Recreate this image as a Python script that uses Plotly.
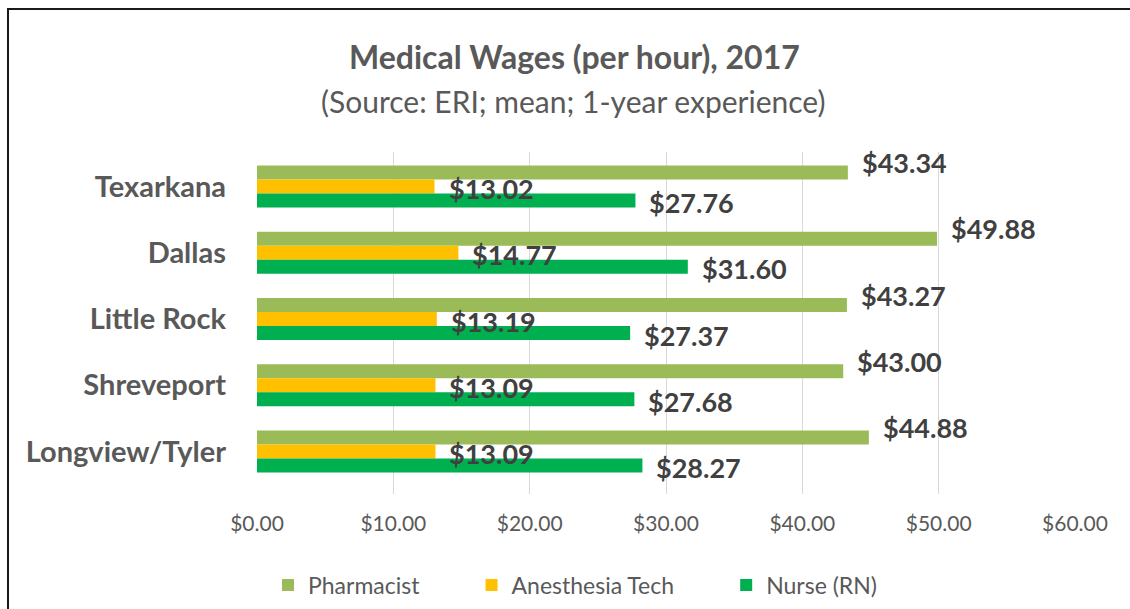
import plotly.graph_objects as go

cities = ["Texarkana", "Dallas", "Little Rock", "Shreveport", "Longview/Tyler"]
series_names = ["Pharmacist", "Anesthesia Tech", "Nurse (RN)"]
pharmacist = [43.34, 49.88, 43.27, 43.00, 44.88]
anesthesia = [13.02, 14.77, 13.19, 13.09, 13.09]
nurse = [27.76, 31.60, 27.37, 27.68, 28.27]
x_ticks = [0, 10, 20, 30, 40, 50, 60]
x_tick_labels = ["$0.00", "$10.00", "$20.00", "$30.00", "$40.00", "$50.00", "$60.00"]

colors = ["#9BBB59", "#FFC000", "#00B050"]
values = [pharmacist, anesthesia, nurse]
FONT = "Lato"
PAD = "\u00a0" * 8

fig = go.Figure()
for i, (name, vals, col) in enumerate(zip(series_names, values, colors)):
    fig.add_trace(go.Bar(
        y=cities, x=vals, name=name + (PAD if i < 2 else ""), orientation="h",
        marker=dict(color=col, line=dict(width=0)),
        hovertemplate=name + ": %{x:$.2f}<extra>%{y}</extra>",
    ))

# data labels (Excel-like placement)
yshifts = [24, -2, -16]
for vals, ys in zip(values, yshifts):
    for c, v in zip(cities, vals):
        fig.add_annotation(
            x=v, y=c, xref="x", yref="y", text=f"${v:.2f}", showarrow=False,
            xanchor="left", yanchor="middle", xshift=12, yshift=ys,
            font=dict(family=FONT, size=27, color="#404040", weight="bold"),
        )

L, R, T, B = 257, 55, 152, 115
W, H = 1130, 609
pw, ph = W - L - R, H - T - B

def px_x(px):
    return (px - L) / pw

def px_y(py):
    return (H - B - py) / ph

fig.add_annotation(
    x=px_x(574), y=px_y(56), xref="paper", yref="paper", showarrow=False,
    text="Medical Wages (per hour), 2017", xanchor="center", yanchor="middle",
    font=dict(family=FONT, size=32, color="#595959", weight="bold"),
)
fig.add_annotation(
    x=px_x(573), y=px_y(101), xref="paper", yref="paper", showarrow=False,
    text="(Source: ERI; mean; 1-year experience)", xanchor="center", yanchor="middle",
    font=dict(family=FONT, size=30, color="#595959"),
)

# chart border
fig.add_shape(
    type="rect", xref="paper", yref="paper",
    x0=px_x(8), x1=px_x(1200), y0=px_y(700), y1=px_y(9),
    line=dict(color="#1a1a1a", width=2), fillcolor="rgba(0,0,0,0)", layer="below",
)

fig.update_layout(
    width=W, height=H,
    margin=dict(l=L, r=R, t=T, b=B, autoexpand=False),
    paper_bgcolor="white", plot_bgcolor="white",
    barmode="group", bargap=0.365, bargroupgap=0,
    font=dict(family=FONT, color="#595959"),
    showlegend=True,
    legend=dict(
        orientation="h", x=px_x(268), xanchor="left", y=px_y(585), yanchor="middle",
        font=dict(family=FONT, size=23, color="#595959"),
        itemclick=False, itemdoubleclick=False, traceorder="normal",
    ),
    xaxis=dict(
        range=[0, 60], tickvals=x_ticks, ticktext=x_tick_labels,
        showgrid=True, gridcolor="#D9D9D9", gridwidth=1, zeroline=False,
        showline=False, ticks="", ticklabelstandoff=15,
        tickfont=dict(family=FONT, size=21, color="#595959"),
        fixedrange=True,
    ),
    yaxis=dict(
        autorange="reversed", categoryorder="array", categoryarray=cities,
        showgrid=False, zeroline=False, showline=False, ticks="",
        ticklabelstandoff=30,
        tickfont=dict(family=FONT, size=29, color="#595959", weight="bold"),
        fixedrange=True,
    ),
)

fig.write_html(
    "out.html",
    config={"displayModeBar": False},
    post_script="document.body.style.margin='0';document.body.style.overflow='hidden';",
)
